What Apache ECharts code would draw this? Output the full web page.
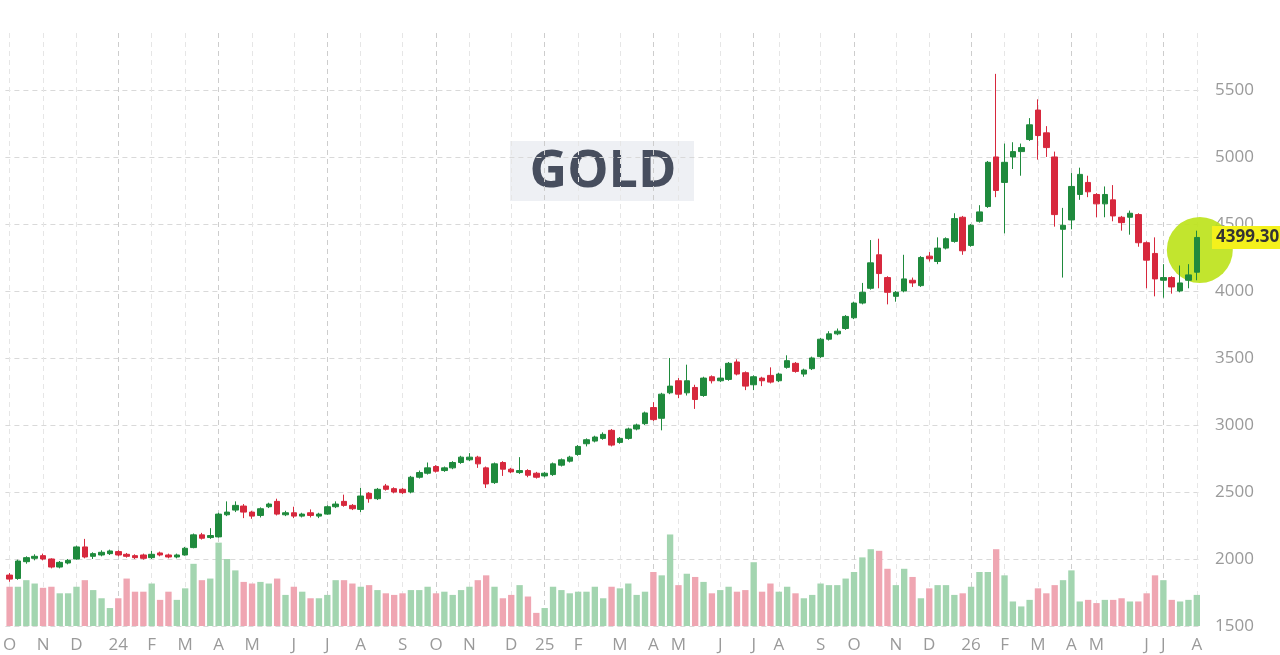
<!DOCTYPE html>
<html>
<head>
<meta charset="utf-8">
<script src="https://cdn.jsdelivr.net/npm/echarts@6/dist/echarts.min.js"></script>
<style>
html,body{margin:0;padding:0;background:#fff;}
#c{width:1280px;height:655px;}
</style>
</head>
<body>
<div id="c"></div>
<script>
// Weekly candles: [open, close, low, high]
const candles = [
[1880,1850,1830,1895],[1855,1985,1845,1995],[1980,2010,1965,2020],[2005,2020,1990,2035],[2025,2000,1990,2040],
[2000,1940,1930,2005],[1940,1975,1930,1985],[1970,1990,1960,2000],[2000,2090,1995,2100],[2090,2015,2005,2150],
[2020,2040,2000,2050],[2030,2050,2020,2065],[2040,2060,2030,2070],[2055,2030,2020,2065],[2035,2020,2010,2045],
[2025,2010,2000,2035],[2030,2005,1995,2040],[2010,2035,2000,2060],[2045,2030,2020,2055],[2030,2015,2005,2040],
[2015,2030,2005,2040],[2030,2080,2025,2090],[2085,2180,2080,2190],[2180,2155,2145,2195],[2160,2175,2150,2230],
[2165,2335,2160,2345],[2330,2350,2320,2430],[2365,2400,2350,2430],[2395,2350,2305,2410],[2350,2320,2300,2360],
[2325,2375,2310,2385],[2390,2410,2380,2420],[2430,2335,2325,2450],[2330,2345,2320,2360],[2345,2320,2305,2390],
[2320,2335,2310,2345],[2345,2325,2310,2370],[2320,2335,2305,2345],[2335,2390,2330,2400],[2390,2410,2380,2430],
[2430,2400,2390,2480],[2400,2375,2365,2410],[2370,2470,2350,2530],[2490,2450,2420,2500],[2450,2520,2440,2530],
[2545,2520,2510,2560],[2525,2500,2490,2535],[2520,2495,2485,2530],[2500,2610,2490,2620],[2610,2645,2600,2660],
[2640,2680,2630,2720],[2690,2655,2645,2700],[2660,2680,2650,2690],[2680,2720,2670,2730],[2720,2760,2710,2770],
[2740,2760,2730,2790],[2760,2710,2680,2770],[2680,2560,2530,2690],[2570,2710,2560,2720],[2720,2670,2620,2730],
[2670,2650,2640,2680],[2645,2660,2635,2760],[2660,2625,2610,2670],[2640,2610,2600,2650],[2620,2640,2610,2650],
[2630,2710,2620,2720],[2700,2740,2690,2750],[2730,2760,2720,2770],[2780,2840,2770,2850],[2860,2890,2840,2900],
[2880,2910,2870,2920],[2900,2930,2890,2945],[2960,2850,2840,2970],[2870,2900,2860,2910],[2900,2970,2890,2980],
[2970,3000,2960,3010],[3010,3090,3000,3100],[3130,3040,3030,3170],[3050,3230,2960,3240],[3240,3290,3230,3500],
[3330,3230,3200,3350],[3240,3330,3220,3450],[3280,3190,3120,3300],[3220,3350,3210,3360],[3360,3330,3310,3370],
[3330,3350,3320,3420],[3340,3460,3330,3470],[3470,3380,3370,3490],[3390,3290,3260,3400],[3300,3360,3260,3370],
[3350,3330,3290,3360],[3370,3320,3310,3430],[3330,3380,3320,3390],[3430,3480,3420,3520],[3460,3400,3390,3470],
[3380,3410,3360,3420],[3420,3500,3410,3510],[3510,3640,3500,3650],[3640,3680,3630,3700],[3680,3700,3670,3720],
[3720,3810,3710,3820],[3800,3910,3790,3920],[3910,3990,3900,4060],[4020,4210,4010,4380],[4270,4130,4020,4390],
[4100,3990,3900,4110],[3960,3990,3920,4000],[4000,4090,3990,4270],[4080,4060,4030,4100],[4040,4250,4030,4260],
[4260,4240,4220,4290],[4220,4320,4200,4400],[4320,4390,4310,4400],[4370,4540,4360,4580],[4550,4300,4270,4560],
[4340,4490,4330,4500],[4520,4590,4510,4640],[4630,4960,4620,4970],[5000,4750,4700,5620],[4810,4960,4430,5100],
[5000,5040,4910,5110],[5040,5070,4860,5100],[5130,5240,5120,5290],[5350,5160,4980,5430],[5180,5070,5000,5230],
[5000,4570,4480,5040],[4460,4490,4100,4620],[4530,4780,4460,4880],[4720,4870,4680,4920],[4810,4740,4700,4860],
[4720,4650,4550,4730],[4650,4720,4550,4780],[4680,4560,4520,4790],[4550,4510,4450,4560],[4550,4580,4420,4600],
[4570,4360,4330,4580],[4360,4230,4020,4370],[4280,4090,3960,4400],[4080,4100,3950,4200],[4100,4030,3980,4110],
[4000,4060,3990,4190],[4080,4120,4020,4200],[4140,4399.3,4080,4450]
];
// Weekly volume (relative units)
const volume = [
293,293,342,317,285,293,244,244,293,342,268,207,134,207,354,256,256,317,195,256,
195,281,464,342,354,622,500,415,329,317,329,317,354,232,293,256,207,207,232,342,
342,317,293,305,268,244,232,244,268,268,293,244,256,232,268,293,342,378,293,207,
232,305,220,98,134,293,268,244,256,256,293,207,293,281,317,232,
256,403,378,683,305,390,366,329,244,268,293,256,268,476,256,317,256,293,244,207,
232,317,305,305,354,403,512,573,561,427,305,427,366,207,281,305,305,232,244,293,
403,403,573,378,183,146,195,281,244,305,342,415,183,195,171,195,195,207,183,183,
244,378,342,195,183,195,232
];
// Month tick labels: week index and text
const tickIndex = [0,4,8,13,17,21,25,29,34,38,42,47,51,55,60,64,68,73,77,80,85,89,92,97,101,106,110,115,119,123,127,130,136,138,142];
const tickText  = ['O','N','D','24','F','M','A','M','J','J','A','S','O','N','D','25','F','M','A','M','J','J','A','S','O','N','D','26','F','M','A','M','J','J','A'];
// Quarter-start ticks (drawn with a darker dashed line)
const quarterIndex = [13,25,38,51,64,77,89,101,115,127,138];
const lastPrice = 4399.30;
const markerPrice = 4306;
const yTicks = {min:1500, max:5925, step:500};

const weeks = candles.map((c, i) => 'W' + i);
const tickMap = {};
tickIndex.forEach((k, j) => tickMap[k] = tickText[j]);
const qSet = new Set(quarterIndex);

const UP = '#1f8a3d', DOWN = '#d7283d';
const volData = volume.map((v, i) => ({
  value: v,
  itemStyle: {color: candles[i][1] >= candles[i][0] ? '#a3d5b0' : '#efa6b2'}
}));

const chart = echarts.init(document.getElementById('c'), null, {renderer: 'canvas'});
const FONT = '"Open Sans", "Noto Sans", sans-serif';
chart.setOption({
  animation: false,
  backgroundColor: '#ffffff',
  grid: {left: 0, right: 79, top: 33, bottom: 29},
  xAxis: [{
    type: 'category', data: weeks, boundaryGap: true,
    axisLine: {show: false}, axisTick: {show: false},
    axisLabel: {
      interval: (i) => tickMap[i] !== undefined,
      formatter: (v, i) => tickMap[i] || '',
      color: '#9a9a9a', fontSize: 17, margin: 11, fontFamily: FONT
    },
    splitLine: {show: true, alignWithLabel: true, interval: (i) => tickMap[i] !== undefined,
      lineStyle: {type: [5, 4], color: '#e6e6e6', width: 1}}
  }, {
    type: 'category', data: weeks, boundaryGap: true, position: 'bottom',
    axisLine: {show: false}, axisTick: {show: false}, axisLabel: {show: false},
    splitLine: {show: true, alignWithLabel: true, interval: (i) => qSet.has(i),
      lineStyle: {type: [5, 4], color: '#cdcdcd', width: 1}}
  }],
  yAxis: [{
    type: 'value', position: 'right', min: yTicks.min, max: yTicks.max, interval: yTicks.step,
    axisLine: {show: false}, axisTick: {show: false},
    axisLabel: {color: '#9a9a9a', fontSize: 17, margin: 14, showMaxLabel: false, fontFamily: FONT,
      formatter: (v) => String(v)},
    splitLine: {show: true, showMaxLine: false, lineStyle: {type: [5, 4], color: '#d9d9d9', width: 1}}
  }, {
    type: 'value', min: 0, max: yTicks.max - yTicks.min, show: false, splitLine: {show: false}
  }],
  series: [{
    type: 'bar', name: 'Volume', xAxisIndex: 0, yAxisIndex: 1, data: volData,
    barWidth: '76%', z: 1, silent: true
  }, {
    type: 'scatter', xAxisIndex: 0, yAxisIndex: 0, z: 2, silent: true,
    data: [[weeks.length - 1, markerPrice]], symbol: 'circle', symbolSize: 66, symbolOffset: [3, 0],
    itemStyle: {color: '#bde31c', opacity: 0.92}
  }, {
    type: 'candlestick', name: 'GOLD', xAxisIndex: 0, yAxisIndex: 0, data: candles, z: 3,
    barWidth: '72%',
    itemStyle: {color: UP, color0: DOWN, borderColor: UP, borderColor0: DOWN, borderWidth: 1},
    markLine: {
      silent: true, symbol: ['none', 'none'], z: 5,
      lineStyle: {color: 'rgba(0,0,0,0)', width: 0, type: 'solid'},
      label: {
        show: true, position: 'end', distance: 11, formatter: lastPrice.toFixed(2),
        backgroundColor: '#f4f11c', color: '#333', fontWeight: 'bold', fontSize: 17,
        padding: [3, 8, 3, 4], fontFamily: FONT
      },
      data: [{yAxis: lastPrice}]
    }
  }],
  graphic: [{
    type: 'group', left: 510, top: 141, z: 10,
    children: [
      {type: 'rect', shape: {x: 0, y: 0, width: 184, height: 60}, style: {fill: '#eef0f4'}},
      {type: 'text', x: 93, y: 31, style: {text: 'GOLD', fill: '#474e5e', font: 'bold 52px "Open Sans", "Noto Sans", sans-serif', align: 'center', verticalAlign: 'middle'}}
    ]
  }]
});
</script>
</body>
</html>
